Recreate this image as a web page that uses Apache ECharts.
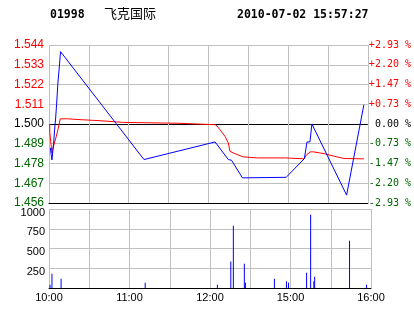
<!DOCTYPE html>
<html><head><meta charset="utf-8">
<script src="https://cdn.jsdelivr.net/npm/echarts@6/dist/echarts.min.js"></script>
<style>html,body{margin:0;padding:0;background:#fff}#c{width:414px;height:314px}</style>
</head><body><div id="c"></div>
<script>
// ---- data ----
const stockCode = '01998';
const stockName = '飞克国际';
const timestamp = '2010-07-02 15:57:27';
const prevClose = 1.5;
const priceMin = 1.456, priceMax = 1.544, priceStep = 0.011;
const timeLabels = {0: '10:00', 60: '11:00', 120: '12:00', 180: '15:00', 240: '16:00'};
// minutes of trading since 10:00 (12:30-14:30 break removed)
const priceMinutes = [1, 2.2, 3.5, 4.2, 5.0, 5.7, 6.7, 8.0, 8.7, 71.5, 125, 135, 137.4, 145.6, 178.5, 192.2, 194.2, 196.4, 197.9, 224, 237];
const priceValues  = [1.4867, 1.480, 1.4893, 1.4967, 1.5033, 1.5107, 1.5228, 1.5339, 1.5403, 1.4802, 1.490, 1.4802, 1.4798, 1.470, 1.4703, 1.4807, 1.490, 1.490, 1.500, 1.4604, 1.5107];
const avgMinutes = [0.5, 0.6, 2.2, 3.0, 3.7, 5.5, 6.7, 8.5, 13.7, 14.2, 24.2, 24.7, 34.1, 34.6, 45.3, 45.8, 55.3, 55.8, 97.8, 98.3, 125.5, 128.7, 132.5, 135, 136.2, 138.7, 146, 157, 178, 179, 192, 194, 197, 199, 207, 215, 222, 237];
const avgValues  = [1.500, 1.4953, 1.4839, 1.4867, 1.4867, 1.4931, 1.4968, 1.5029, 1.5029, 1.5024, 1.5024, 1.502, 1.502, 1.5015, 1.5015, 1.5009, 1.5009, 1.5004, 1.5004, 1.4996, 1.4996, 1.4968, 1.4931, 1.4894, 1.4848, 1.4839, 1.4817, 1.4811, 1.4811, 1.4806, 1.4806, 1.483, 1.4845, 1.4845, 1.4835, 1.482, 1.4808, 1.4806];
const volumeMinutes = [0.75, 2.2, 9, 71.7, 125.5, 135.5, 137.4, 145.6, 146.4, 168, 177, 178.5, 192, 195, 197.4, 198, 224, 236.7];
const volumeValues  = [42, 181, 118, 67, 42, 337, 789, 308, 67, 118, 84, 67, 194, 928, 84, 143, 599, 42];

// ---- chart ----
const zip = (a, b) => a.map((x, i) => [x, b[i]]);
const RED = '#ff0000', GREEN = '#006400', GRID = '#c0c0c0';
const nTicks = Math.round((priceMax - priceMin) / priceStep) + 1;
const splitColors = [];
for (let i = 0; i < nTicks; i++) {
  const v = priceMin + i * priceStep;
  splitColors.push(i === 0 || Math.abs(v - prevClose) < 1e-6 ? '#000000' : GRID);
}
function cls(v) {
  if (Math.abs(v - prevClose) < 1e-6) return 'k';
  return v > prevClose ? 'r' : 'g';
}
const chart = echarts.init(document.getElementById('c'), null, {renderer: 'canvas'});
chart.setOption({
  animation: false,
  backgroundColor: '#ffffff',
  title: [
    {text: stockCode, left: 50, top: 9, padding: 0, textStyle: {fontFamily: 'DejaVu Sans Mono', fontWeight: 'bold', fontSize: 11.5, color: '#000'}},
    {text: stockName, left: 104, top: 7, padding: 0, textStyle: {fontFamily: 'Noto Sans CJK SC', fontWeight: 'normal', fontSize: 13, color: '#000'}},
    {text: timestamp, left: 237, top: 9, padding: 0, textStyle: {fontFamily: 'DejaVu Sans Mono', fontWeight: 'bold', fontSize: 11.5, color: '#000'}}
  ],
  grid: [
    {left: 49, right: 43, top: 45, height: 158, containLabel: false},
    {left: 49, right: 43, top: 209, height: 79, containLabel: false}
  ],
  xAxis: [
    {type: 'value', gridIndex: 0, min: 0, max: 240, interval: 30,
     axisLabel: {show: false}, axisTick: {show: false},
     axisLine: {show: true, lineStyle: {color: '#000', width: 1}},
     splitLine: {show: true, lineStyle: {color: GRID, width: 1}}},
    {type: 'value', gridIndex: 1, min: 0, max: 240, interval: 30,
     axisTick: {show: false},
     axisLine: {show: true, lineStyle: {color: '#000', width: 1}},
     splitLine: {show: true, lineStyle: {color: GRID, width: 1}},
     axisLabel: {show: true, showMinLabel: true, showMaxLabel: true, margin: 4,
       fontFamily: 'Liberation Sans', fontSize: 11, color: '#000',
       formatter: v => timeLabels[Math.round(v)] || ''}}
  ],
  yAxis: [
    {type: 'value', gridIndex: 0, position: 'left', min: priceMin, max: priceMax, interval: priceStep,
     axisLine: {show: false}, axisTick: {show: false},
     splitLine: {show: true, lineStyle: {color: splitColors, width: 1}},
     axisLabel: {margin: 5, fontFamily: 'Liberation Sans', fontSize: 12,
       formatter: v => '{' + cls(v) + '|' + v.toFixed(3) + '}',
       rich: {r: {color: RED, fontFamily: 'Liberation Sans', fontSize: 12},
              g: {color: GREEN, fontFamily: 'Liberation Sans', fontSize: 12},
              k: {color: '#000', fontFamily: 'Liberation Sans', fontSize: 12}}}},
    {type: 'value', gridIndex: 0, position: 'right', min: priceMin, max: priceMax, interval: priceStep,
     axisLine: {show: false}, axisTick: {show: false}, splitLine: {show: false},
     axisLabel: {margin: 1, align: 'left', fontFamily: 'DejaVu Sans Mono', fontSize: 10,
       formatter: v => {
         const pct = (v - prevClose) / prevClose * 100;
         const c = cls(v);
         const s = (c === 'r' ? '+' : c === 'g' ? '-' : ' ') + Math.abs(pct).toFixed(2) + ' %';
         return '{' + c + '|' + s + '}';
       },
       rich: {r: {color: RED, fontFamily: 'DejaVu Sans Mono', fontSize: 10},
              g: {color: GREEN, fontFamily: 'DejaVu Sans Mono', fontSize: 10},
              k: {color: '#000', fontFamily: 'DejaVu Sans Mono', fontSize: 10}}}},
    {type: 'value', gridIndex: 1, min: 0, max: 1000, interval: 250,
     axisLine: {show: false}, axisTick: {show: false},
     splitLine: {show: true, lineStyle: {color: GRID, width: 1}},
     axisLabel: {margin: 4, fontFamily: 'Liberation Sans', fontSize: 11, color: '#000',
       formatter: v => v === 0 ? '' : '{a|' + v + '}',
       rich: {a: {fontFamily: 'Liberation Sans', fontSize: 11, color: '#000', padding: [7, 0, 0, 0]}}}}
  ],
  series: [
    {type: 'line', name: 'avg', xAxisIndex: 0, yAxisIndex: 0, data: zip(avgMinutes, avgValues),
     showSymbol: false, symbol: 'none', lineStyle: {color: RED, width: 1}, z: 3},
    {type: 'line', name: 'price', xAxisIndex: 0, yAxisIndex: 0, data: zip(priceMinutes, priceValues),
     showSymbol: false, symbol: 'none', lineStyle: {color: '#0000ff', width: 1}, z: 4},
    {type: 'bar', name: 'volume', xAxisIndex: 1, yAxisIndex: 2, data: zip(volumeMinutes, volumeValues),
     barWidth: 1, itemStyle: {color: '#0000ff'}}
  ]
});
</script></body></html>
